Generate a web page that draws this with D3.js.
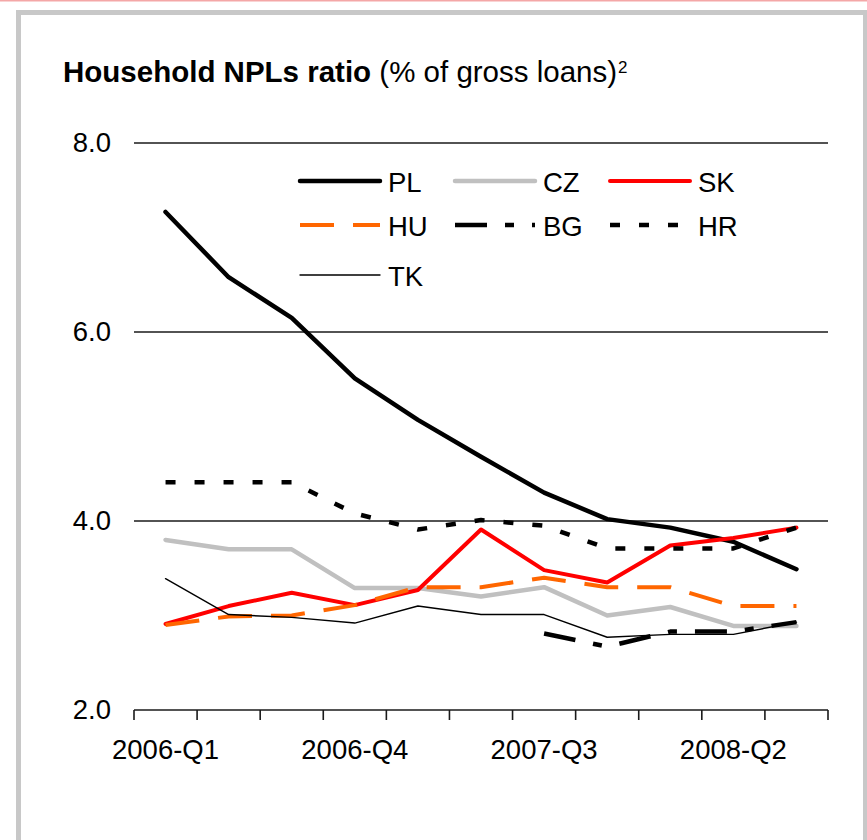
<!DOCTYPE html>
<html>
<head>
<meta charset="utf-8">
<script src="https://cdn.jsdelivr.net/npm/d3@7"></script>
<style>
  html, body { margin: 0; padding: 0; background: #fff; }
  svg { display: block; font-family: "Liberation Sans", Arial, sans-serif; }
</style>
</head>
<body>
<svg id="chart" width="867" height="840"></svg>
<script>
// Quarterly household non-performing loan ratios (% of gross loans)
const categories = ["2006-Q1", "2006-Q2", "2006-Q3", "2006-Q4", "2007-Q1", "2007-Q2",
                    "2007-Q3", "2007-Q4", "2008-Q1", "2008-Q2", "2008-Q3"];
const shownLabels = ["2006-Q1", "2006-Q4", "2007-Q3", "2008-Q2"];
const yTicks = [2, 4, 6, 8];

const PL = [7.27, 6.58, 6.15, 5.51, 5.07, 4.68, 4.30, 4.02, 3.93, 3.78, 3.49];
const CZ = [3.80, 3.70, 3.70, 3.29, 3.29, 3.20, 3.30, 3.00, 3.09, 2.89, 2.89];
const SK = [2.91, 3.10, 3.24, 3.11, 3.27, 3.91, 3.48, 3.35, 3.74, 3.82, 3.93];
const HU = [2.90, 2.99, 3.00, 3.11, 3.30, 3.30, 3.40, 3.30, 3.30, 3.10, 3.10];
const BG = [null, null, null, null, null, null, 2.81, 2.67, 2.83, 2.83, 2.93];
const HR = [4.41, 4.41, 4.41, 4.08, 3.91, 4.01, 3.95, 3.71, 3.71, 3.71, 3.93];
const TK = [3.39, 3.01, 2.98, 2.92, 3.10, 3.01, 3.01, 2.77, 2.80, 2.80, 2.93];

const series = [
  { name: "PL", values: PL, color: "#000000", width: 4.5, dash: null },
  { name: "CZ", values: CZ, color: "#c0c0c0", width: 4.5, dash: null },
  { name: "SK", values: SK, color: "#ff0000", width: 4,   dash: null },
  { name: "HU", values: HU, color: "#ff6600", width: 4,   dash: "34,19" },
  { name: "BG", values: BG, color: "#000000", width: 4.5, dash: "32,18,9,18" },
  { name: "HR", values: HR, color: "#000000", width: 4.5, dash: "10,19" },
  { name: "TK", values: TK, color: "#000000", width: 1.4, dash: null }
];

const svg = d3.select("#chart");

// thin accent strip along the top edge and the grey panel frame
svg.append("rect").attr("x", 0).attr("y", 0).attr("width", 867).attr("height", 1.5)
  .attr("fill", "#f4a7a7");
svg.append("rect").attr("x", 18.5).attr("y", 12.5).attr("width", 847).attr("height", 900)
  .attr("fill", "#fff").attr("stroke", "#c8c8c8").attr("stroke-width", 5);

// title
const title = svg.append("text").attr("x", 63).attr("y", 82)
  .attr("font-size", 29.5).attr("fill", "#000");
title.append("tspan").attr("font-weight", "bold").text("Household NPLs ratio");
title.append("tspan").text(" (% of gross loans)");
title.append("tspan").attr("font-size", 17).attr("dy", -9).attr("dx", 1).text("2");

const plotLeft = 134, plotRight = 828, plotTop = 143, plotBottom = 710;

const x = d3.scaleBand().domain(categories).range([plotLeft, plotRight]).padding(0);
const y = d3.scaleLinear().domain([2, 8]).range([plotBottom, plotTop]);
const cx = c => x(c) + x.bandwidth() / 2;

// horizontal gridlines
svg.append("g").selectAll("line").data(yTicks.filter(v => v > 2)).join("line")
  .attr("x1", plotLeft).attr("x2", plotRight)
  .attr("y1", d => y(d)).attr("y2", d => y(d))
  .attr("stroke", "#1a1a1a").attr("stroke-width", 1.5);

// y labels
const yAxis = svg.append("g").attr("transform", `translate(${plotLeft},0)`)
  .call(d3.axisLeft(y).tickValues(yTicks).tickFormat(d3.format(".1f")).tickSize(0).tickPadding(23));
yAxis.select(".domain").remove();
yAxis.selectAll("text").attr("font-size", 27.5).attr("fill", "#000")
  .attr("font-family", "'Liberation Sans', Arial, sans-serif");

// x axis: line, boundary ticks, selected labels
const xAxis = svg.append("g").attr("transform", `translate(0,${plotBottom})`)
  .call(d3.axisBottom(x).tickSize(0).tickPadding(29)
    .tickFormat(d => shownLabels.includes(d) ? d : ""));
xAxis.select(".domain").attr("stroke", "#1a1a1a").attr("stroke-width", 1.6)
  .attr("d", `M${plotLeft},0H${plotRight}`);
xAxis.selectAll("text").attr("font-size", 27.5).attr("fill", "#000")
  .attr("font-family", "'Liberation Sans', Arial, sans-serif");
const edges = categories.map(c => x(c)).concat([plotRight]);
xAxis.selectAll("line.edge").data(edges).join("line").attr("class", "edge")
  .attr("x1", d => d).attr("x2", d => d).attr("y1", 0).attr("y2", 10)
  .attr("stroke", "#1a1a1a").attr("stroke-width", 1.6);

// series lines
const line = d3.line()
  .defined(d => d.v != null)
  .x(d => cx(d.c))
  .y(d => y(d.v));

svg.append("g").selectAll("path").data(series).join("path")
  .attr("d", s => line(categories.map((c, i) => ({ c, v: s.values[i] }))))
  .attr("fill", "none")
  .attr("stroke", s => s.color)
  .attr("stroke-width", s => s.width)
  .attr("stroke-dasharray", s => s.dash)
  .attr("stroke-linejoin", "round")
  .attr("stroke-linecap", s => s.dash ? "butt" : "round");

// legend: three columns
const legendCols = [300, 455, 610];
const legendRows = [181, 225, 275];
const leg = svg.append("g").selectAll("g").data(series).join("g")
  .attr("transform", (s, i) => `translate(${legendCols[i % 3]},${legendRows[Math.floor(i / 3)]})`);
leg.append("line").attr("x1", 0).attr("x2", 80).attr("y1", 0).attr("y2", 0)
  .attr("stroke", s => s.color)
  .attr("stroke-width", s => s.width)
  .attr("stroke-dasharray", s => s.dash)
  .attr("stroke-linecap", s => s.dash ? "butt" : "round");
leg.append("text").attr("x", 88).attr("y", 10.5)
  .attr("font-size", 27.5).attr("fill", "#000").text(s => s.name);
</script>
</body>
</html>
